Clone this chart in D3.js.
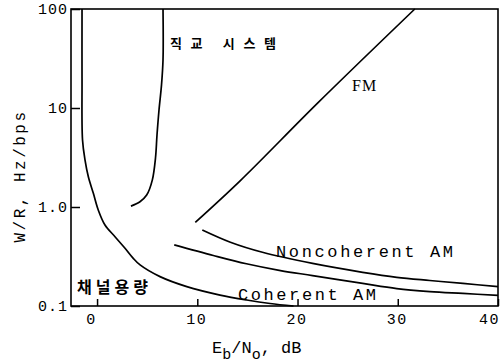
<!DOCTYPE html>
<html><head><meta charset="utf-8">
<script src="https://cdn.jsdelivr.net/npm/d3@7"></script>
<style>body{margin:0;background:#fff}svg{display:block}</style>
</head><body>
<svg id="c" width="502" height="363"></svg>
<script>
// Data (x: Eb/No in dB, y: W/R in Hz/bps)
const capacityEbNo = [-1.5, -1.5, -1.45, -1.2, -0.87, -0.37, 0.12, 0.79, 1.79, 2.79, 3.59, 4.29, 6.28, 8.95, 12.27, 14.93, 17.26, 19.6];
const capacityWR   = [100, 20, 4.75, 2.98, 2.02, 1.375, 0.933, 0.658, 0.501, 0.383, 0.305, 0.260, 0.198, 0.157, 0.129, 0.115, 0.106, 0.1];
const orthoEbNo = [6.58, 6.58, 6.43, 6.18, 5.98, 5.83, 5.51, 4.95, 4.28, 3.38];
const orthoWR   = [100, 30.5, 17.1, 9.55, 5.34, 3.13, 1.87, 1.32, 1.13, 1.02];
const fmEbNo = [9.8, 14.3, 22.0, 31.7];
const fmWR   = [0.70, 1.85, 11.2, 100];
const noncohEbNo = [10.5, 13.3, 16.5, 21.5, 26.5, 29.9, 33.2, 36.5, 40];
const noncohWR   = [0.586, 0.441, 0.349, 0.269, 0.219, 0.195, 0.181, 0.169, 0.157];
const cohEbNo = [7.7, 11.6, 14.9, 18.3, 21.5, 26.5, 29.9, 33.2, 36.5, 40];
const cohWR   = [0.415, 0.324, 0.267, 0.228, 0.203, 0.169, 0.150, 0.140, 0.134, 0.128];
const xTicks = [0, 10, 20, 30, 40];
const xTickLabels = ["0", "10", "20", "30", "40"];
const yTicks = [0.1, 1, 10, 100];
const yTickLabels = ["0.1", "1.0", "10", "100"];

const svg = d3.select("#c");
const x = d3.scaleLinear().domain([-2.6, 40]).range([71, 498]);
const y = d3.scaleLog().domain([0.1, 100]).range([306, 9]);
const mono = "'Liberation Mono', 'DejaVu Sans Mono', monospace";
const kr = "'Noto Sans CJK KR', sans-serif";

// frame
svg.append("rect").attr("x", x(-2.6)).attr("y", y(100))
  .attr("width", x(40) - x(-2.6)).attr("height", y(0.1) - y(100))
  .attr("fill", "none").attr("stroke", "#000").attr("stroke-width", 1.6);

// x axis
const gx = svg.append("g").attr("transform", `translate(0,${y(0.1)})`)
  .call(d3.axisBottom(x).tickValues(xTicks).tickSize(-7).tickPadding(10)
    .tickFormat((d, i) => xTickLabels[i]));
gx.select(".domain").remove();
gx.selectAll(".tick line").attr("stroke", "#000").attr("stroke-width", 1.5);
gx.selectAll(".tick text").attr("font-family", mono).attr("font-size", 15)
  .attr("fill", "#000").attr("letter-spacing", 1.5).attr("dy", "0.55em")
  .attr("dx", (d, i) => i === xTicks.length - 1 ? -9 : (i === 0 ? -6 : -1));

// y axis
const gy = svg.append("g").attr("transform", `translate(${x(-2.6)},0)`)
  .call(d3.axisLeft(y).tickValues(yTicks).tickSize(-9).tickPadding(3)
    .tickFormat((d, i) => yTickLabels[i]));
gy.select(".domain").remove();
gy.selectAll(".tick line").attr("stroke", "#000").attr("stroke-width", 1.5);
gy.selectAll(".tick text").attr("font-family", mono).attr("font-size", 15)
  .attr("fill", "#000").attr("letter-spacing", 1);

// curves
const line = d3.line().x(d => x(d[0])).y(d => y(d[1])).curve(d3.curveCatmullRom.alpha(0.5));
const series = [
  [capacityEbNo, capacityWR],
  [orthoEbNo, orthoWR],
  [fmEbNo, fmWR],
  [noncohEbNo, noncohWR],
  [cohEbNo, cohWR]
];
series.forEach(([xs, ys]) => {
  svg.append("path").datum(xs.map((v, i) => [v, ys[i]]))
    .attr("d", line).attr("fill", "none").attr("stroke", "#000")
    .attr("stroke-width", 1.7).attr("stroke-linejoin", "round");
});

// labels
svg.append("text").attr("x", 170).attr("y", 48).attr("font-family", kr)
  .attr("font-weight", 700).attr("font-size", 13)
  .attr("textLength", 106).attr("lengthAdjust", "spacing").text("직교 시스템");
svg.append("text").attr("x", 77).attr("y", 293).attr("font-family", kr)
  .attr("font-weight", 700).attr("font-size", 16)
  .attr("textLength", 71).attr("lengthAdjust", "spacing").text("채널용량");
svg.append("text").attr("x", 352).attr("y", 91).attr("font-family", "'Liberation Serif', serif")
  .attr("font-size", 16).attr("letter-spacing", 1).text("FM");
svg.append("text").attr("x", 276).attr("y", 257).attr("font-family", mono)
  .attr("font-size", 17).attr("textLength", 177).attr("lengthAdjust", "spacing").text("Noncoherent AM");
svg.append("text").attr("x", 238).attr("y", 300).attr("font-family", mono)
  .attr("font-size", 17).attr("textLength", 138).attr("lengthAdjust", "spacing").text("Coherent AM");

// axis titles
const xt = svg.append("text").attr("x", 212).attr("y", 353).attr("font-family", mono)
  .attr("font-size", 17).attr("fill", "#000");
xt.append("tspan").text("E");
xt.append("tspan").attr("dy", 6).attr("font-size", 15).text("b");
xt.append("tspan").attr("dy", -6).text("/N");
xt.append("tspan").attr("dy", 6).attr("font-size", 15).text("o");
xt.append("tspan").attr("dy", -6).text(", dB");

svg.append("text").attr("transform", "translate(25,176) rotate(-90)")
  .attr("text-anchor", "middle").attr("font-family", mono).attr("font-size", 16)
  .attr("letter-spacing", 2.5).text("W/R, Hz/bps");
</script>
</body></html>
